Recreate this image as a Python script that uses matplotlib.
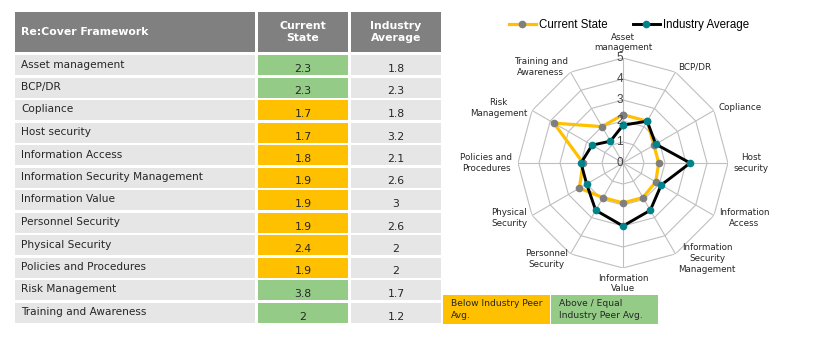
import numpy as np
import matplotlib
matplotlib.use('Agg')
import matplotlib.pyplot as plt
from matplotlib.patches import Rectangle
from matplotlib.lines import Line2D

# data
categories = ['Asset management', 'BCP/DR', 'Copliance', 'Host security',
              'Information Access', 'Information Security Management',
              'Information Value', 'Personnel Security', 'Physical Security',
              'Policies and Procedures', 'Risk Management', 'Training and Awareness']
radar_labels = ['Asset\nmanagement', 'BCP/DR', 'Copliance', 'Host\nsecurity',
                'Information\nAccess', 'Information\nSecurity\nManagement',
                'Information\nValue', 'Personnel\nSecurity', 'Physical\nSecurity',
                'Policies and\nProcedures', 'Risk\nManagement', 'Training and\nAwareness']
current_state = [2.3, 2.3, 1.7, 1.7, 1.8, 1.9, 1.9, 1.9, 2.4, 1.9, 3.8, 2]
industry_avg = [1.8, 2.3, 1.8, 3.2, 2.1, 2.6, 3, 2.6, 2, 2, 1.7, 1.2]
# cell status as shown in the table (g = above/equal, y = below)
status = ['g', 'g', 'y', 'y', 'y', 'y', 'y', 'y', 'y', 'y', 'g', 'g']

GREEN = '#94CB87'
YELLOW = '#FFC000'
HEADER = '#808080'
ROWBG = '#E6E6E6'
TXT = '#262626'

W, H = 825, 342
fig = plt.figure(figsize=(W / 100, H / 100), dpi=100)

# ---- table (pixel coordinates) ----
tab = fig.add_axes([0, 0, 1, 1])
tab.set_xlim(0, W)
tab.set_ylim(H, 0)
tab.axis('off')

cols = [(15, 255), (258, 348), (351, 441)]
tfont = 'DejaVu Sans'

for (x0, x1) in cols:
    tab.add_patch(Rectangle((x0, 12), x1 - x0, 40, color=HEADER, lw=0))
tab.text(21, 32, 'Re:Cover Framework', color='white', fontsize=7.8,
         fontweight='bold', va='center', family=tfont)
tab.text(sum(cols[1]) / 2, 32, 'Current\nState', color='white', fontsize=7.8,
         fontweight='bold', ha='center', va='center', family=tfont, linespacing=1.3)
tab.text(sum(cols[2]) / 2, 32, 'Industry\nAverage', color='white', fontsize=7.8,
         fontweight='bold', ha='center', va='center', family=tfont, linespacing=1.3)

for i, name in enumerate(categories):
    top = 55 + i * 22.5
    h = 20
    tab.add_patch(Rectangle((cols[0][0], top), cols[0][1] - cols[0][0], h, color=ROWBG, lw=0))
    c = GREEN if status[i] == 'g' else YELLOW
    tab.add_patch(Rectangle((cols[1][0], top), cols[1][1] - cols[1][0], h, color=c, lw=0))
    tab.add_patch(Rectangle((cols[2][0], top), cols[2][1] - cols[2][0], h, color=ROWBG, lw=0))
    tab.text(21, top + 9.5, name, fontsize=7.6, color=TXT, va='center', family=tfont)
    tab.text(sum(cols[1]) / 2, top + 14, '%g' % current_state[i], fontsize=7.8,
             color=TXT, ha='center', va='center', family=tfont)
    tab.text(sum(cols[2]) / 2, top + 14, '%g' % industry_avg[i], fontsize=7.8,
             color=TXT, ha='center', va='center', family=tfont)

# bottom key boxes
tab.add_patch(Rectangle((443, 295), 107, 29, color=YELLOW, lw=0))
tab.add_patch(Rectangle((551, 295), 107, 29, color=GREEN, lw=0))
tab.text(451, 309.5, 'Below Industry Peer\nAvg.', fontsize=6.6, color=TXT,
         va='center', family=tfont, linespacing=1.3)
tab.text(559, 309.5, 'Above / Equal\nIndustry Peer Avg.', fontsize=6.6, color=TXT,
         va='center', family=tfont, linespacing=1.3)

# ---- radar ----
cx, cy, R = 623, 163, 105
ax = fig.add_axes([(cx - R) / W, 1 - (cy + R) / H, 2 * R / W, 2 * R / H],
                  projection='polar')
ax.set_theta_zero_location('N')
ax.set_theta_direction(-1)
ax.set_ylim(0, 5)
ax.set_axis_off()

n = len(categories)
angles = np.arange(n) * 2 * np.pi / n
closed = np.append(angles, angles[0])

for r in range(1, 6):
    ax.plot(closed, [r] * (n + 1), color='#BFBFBF', lw=0.8, zorder=1)
for a in angles:
    ax.plot([a, a], [0, 5], color='#BFBFBF', lw=0.8, zorder=1)

ax.plot(closed, current_state + current_state[:1], color=YELLOW, lw=2.3,
        marker='o', ms=4.5, mfc='#7F7F7F', mec='#7F7F7F', zorder=3)
ax.plot(closed, industry_avg + industry_avg[:1], color='black', lw=2.1,
        marker='o', ms=4.5, mfc='#00838A', mec='#00838A', zorder=4)

for r in range(0, 6):
    ax.text(0, r, str(r), ha='right', va='center', fontsize=8.5,
            color='#404040', family='Liberation Sans', zorder=5)

for a, lab in zip(angles, radar_labels):
    s, c = np.sin(a), np.cos(a)
    if abs(s) < 1e-6:
        ha = 'center'
        va = 'bottom' if c > 0 else 'top'
    else:
        ha = 'left' if s > 0 else 'right'
        va = 'center'
    ax.annotate(lab, xy=(a, 5), xytext=(4 * s, 4 * c), textcoords='offset points',
                ha=ha, va=va, fontsize=6.3, color=TXT, family=tfont,
                multialignment='center', linespacing=1.25, annotation_clip=False)

handles = [Line2D([], [], color=YELLOW, lw=2.3, marker='o', ms=4.5,
                  mfc='#7F7F7F', mec='#7F7F7F'),
           Line2D([], [], color='black', lw=2.1, marker='o', ms=4.5,
                  mfc='#00838A', mec='#00838A')]
fig.legend(handles, ['Current State', 'Industry Average'], loc='center',
           bbox_to_anchor=(0.762, 0.927), ncol=2, frameon=False,
           prop={'family': 'Liberation Sans', 'size': 8.3},
           handlelength=2.4, handletextpad=0.2, columnspacing=2.2)

fig.savefig('out.png', dpi=100)
